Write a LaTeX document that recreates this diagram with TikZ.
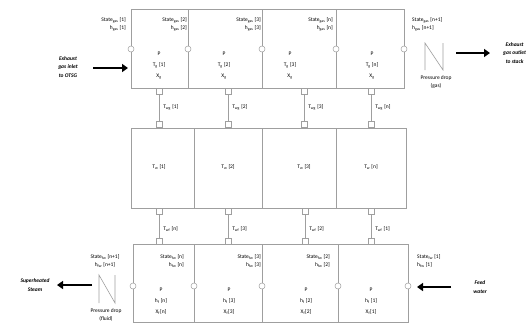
\documentclass[tikz,border=0pt]{standalone}
\usepackage{fontspec}
\setmainfont{Carlito}
\usetikzlibrary{arrows.meta}

\tikzset{
    txt/.style={font=\fontsize{5.5}{8.5}\selectfont, inner sep=0pt},
    cellval/.style={txt, align=center, font=\fontsize{5.5}{11}\selectfont},
    side/.style={txt, align=center, font=\fontsize{5.5}{8.5}\selectfont\bfseries\itshape},
    wall/.style={draw=gray!75, line width=0.6pt},
    link/.style={draw=gray!75, line width=0.6pt},
    port/.style={circle, draw=gray!75, fill=white, line width=0.5pt, inner sep=0pt, minimum size=6pt},
    pin/.style={rectangle, draw=gray!75, fill=white, line width=0.5pt, inner sep=0pt, minimum size=6pt},
    flow/.style={line width=2pt, -{Triangle[length=6pt,width=8pt]}},
}

\begin{document}
\begin{tikzpicture}[x=1pt,y=-1pt]

    \useasboundingbox (0,0) rectangle (529,325);

    \draw[wall] (131,9) rectangle (404,88);
    \foreach \x in {188,262,336} \draw[wall] (\x,9) -- (\x,88);
    \draw[wall] (131,128) rectangle (406,208);
    \foreach \x in {194,262,336} \draw[wall] (\x,128) -- (\x,208);
    \draw[wall] (133,244) rectangle (408,322);
    \foreach \x in {194,262,338} \draw[wall] (\x,244) -- (\x,322);

    \foreach \i/\x in {1/131,2/188,3/262,4/336,5/404} \node[port] (gport\i) at (\x,49) {};
    \foreach \i/\x in {1/133,2/194,3/262,4/338,5/408} \node[port] (fport\i) at (\x,286) {};

    \foreach \i/\x/\k in {1/159/1,2/228/2,3/304/3,4/371/n} {
        \node[pin] (gpin\i) at (\x,91) {};
        \node[pin] (wtop\i) at (\x,124.5) {};
        \draw[link] (gpin\i) -- node[txt, right=4pt] {T\textsubscript{wg} [\k]} (wtop\i);
        \node[txt] (wcell\i) at (\x,167) {T\textsubscript{w} [\k]};
    }
    \foreach \i/\x/\k in {1/159/n,2/228/3,3/305/2,4/371/1} {
        \node[pin] (wbot\i) at (\x,211.5) {};
        \node[pin] (fpin\i) at (\x,241) {};
        \draw[link] (wbot\i) -- node[txt, right=4pt, yshift=-3pt] {T\textsubscript{wf} [\k]} (fpin\i);
    }

    \node[txt, align=right, anchor=north east] (gst1) at (126,17) {State\textsubscript{gas} [1]\\h\textsubscript{gas} [1]};
    \foreach \x/\k in {187/2,261/3,333/n}
        \node[txt, align=right, anchor=north east] (gst\k) at (\x,17) {State\textsubscript{gas} [\k]\\h\textsubscript{gas} [\k]};
    \node[txt, align=left, anchor=north west] (gstlast) at (412,17) {State\textsubscript{gas} [n+1]\\h\textsubscript{gas} [n+1]};

    \foreach \x/\k in {159/1,224/2,290/3,372/n}
        \node[cellval, anchor=north] (gcell\k) at (\x,52) {P\\T\textsubscript{g} [\k]\\X\textsubscript{g}};

    \node[txt, align=center, anchor=north] (fstlast) at (105,254) {State\textsubscript{fw} [n+1]\\h\textsubscript{fw} [n+1]};
    \foreach \x/\k in {184/n,261/3,330/2}
        \node[txt, align=right, anchor=north east] (fst\k) at (\x,254) {State\textsubscript{fw} [\k]\\h\textsubscript{fw} [\k]};
    \node[txt, align=left, anchor=north west] (fst1) at (417,254) {State\textsubscript{fw} [1]\\h\textsubscript{fw} [1]};

    \foreach \x/\k in {161/n,229/3,306/2,371/1}
        \node[cellval, anchor=north] (fcell\k) at (\x,288) {P\\h\textsubscript{f} [\k]\\X\textsubscript{f}[\k]};

    \draw[link] (425,70) -- (425,43) -- (443,70) -- (443,43);
    \node[txt, align=center, anchor=north] (gdrop) at (436,75) {Pressure drop\\(gas)};
    \draw[link] (99,303) -- (99,275) -- (115,303) -- (115,275);
    \node[txt, align=center, anchor=north] (fdrop) at (106,308) {Pressure drop\\(fluid)};

    \node[side] (inlet) at (68,67) {Exhaust\\gas inlet\\to OTSG};
    \coordinate (inletA) at (93,68);
    \coordinate (inletB) at (128,68);
    \draw[flow] (inletA) -- (inletB);

    \node[side, anchor=west] (outlet) at (503,53) {Exhaust\\gas outlet\\to stack};
    \coordinate (outletA) at (456,53);
    \coordinate (outletB) at (490,53);
    \draw[flow] (outletA) -- (outletB);

    \node[side] (steam) at (35,285) {Superheated\\Steam};
    \coordinate (steamA) at (92,285);
    \coordinate (steamB) at (57,285);
    \draw[flow] (steamA) -- (steamB);

    \node[side] (feed) at (480,287) {Feed\\water};
    \coordinate (feedA) at (451,287);
    \coordinate (feedB) at (417,287);
    \draw[flow] (feedA) -- (feedB);

\end{tikzpicture}
\end{document}
